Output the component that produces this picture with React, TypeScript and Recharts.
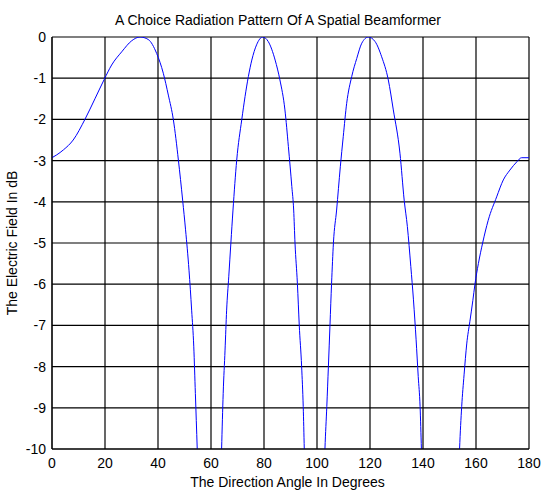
import { LineChart, Line, XAxis, YAxis, CartesianGrid } from 'recharts';

// angle (deg) and field (dB); points below -10 are clipped
const angles = [
  0, 1.8, 4.3, 8, 12.5, 16.2, 19.7, 22.5, 26.3, 30.1, 33.2, 36.3, 39.5, 42, 43.9,
  45.8, 47.7, 49.3, 50.4, 51.7, 52.7, 53.5, 54.1, 54.8, 56.5, 59.5, 62.5, 64,
  64.6, 65.3, 65.9, 66.7, 67.5, 68.3, 69.7, 71.6, 74.1, 75.4, 77.2, 79.5, 81.6,
  84.2, 86, 87.9, 89.2, 90.5, 91.2, 91.7, 92.6, 93.3, 94.2, 94.8, 95.2, 97, 99,
  101, 103, 103.7, 104.3, 104.9, 105.5, 106.2, 107.4, 108.8, 109.9, 111.2, 113.1,
  115, 116.9, 119.4, 121.9, 124.4, 126.9, 128.8, 131.3, 132.9, 134.1, 135.4,
  136.4, 137.4, 138.2, 138.9, 139.4, 143, 147, 151, 153.8, 154.6, 155.5, 156.5,
  157.7, 158.8, 159.6, 160.9, 162.5, 164.6, 167.8, 170.3, 172.8, 175.4,
  177.2, 180,
];
const fieldDb = [
  -2.93, -2.86, -2.74, -2.5, -1.99, -1.5, -1.03, -0.68, -0.36, -0.09, 0, -0.06,
  -0.4, -0.88, -1.41, -2.01, -2.99, -3.96, -4.68, -5.66, -6.63, -7.52, -8.65,
  -10, -14, -30, -14, -10, -8.65, -7.6, -6.63, -5.82, -5.0, -4.2, -2.99, -2.01,
  -0.96, -0.56, -0.19, 0, -0.11, -0.56, -1.04, -1.77, -2.66, -3.63, -4.2, -5.0,
  -5.98, -6.99, -8.0, -8.97, -10, -16, -35, -16, -10, -8.97, -8.0, -6.99, -5.98,
  -5.0, -4.2, -3.15, -2.42, -1.61, -0.96, -0.52, -0.15, 0, -0.11, -0.48, -1.04,
  -1.77, -2.82, -3.96, -4.6, -5.57, -6.38, -7.35, -8.24, -8.97, -10, -18, -30,
  -18, -10, -8.97, -8.2, -7.45, -6.9, -6.4, -6.0, -5.5, -5.0, -4.45,
  -3.88, -3.47, -3.23, -3.03, -2.93, -2.93,
];
const xTicks = [0, 20, 40, 60, 80, 100, 120, 140, 160, 180];
const yTicks = [0, -1, -2, -3, -4, -5, -6, -7, -8, -9, -10];

const data = angles.map((a, i) => ({ angle: a, db: fieldDb[i] }));

const FONT = '"Liberation Sans", Arial, sans-serif';
const tickStyle = { fill: '#000', fontSize: 14, fontFamily: FONT };

export default function App() {
  return (
    <div style={{ position: 'absolute', left: 0, top: 0, width: 542, height: 491, background: '#fff' }}>
      <div
        style={{
          position: 'absolute',
          top: 12,
          left: 0,
          width: 556,
          textAlign: 'center',
          fontFamily: FONT,
          fontSize: 14,
          color: '#000',
        }}
      >
        A Choice Radiation Pattern Of A Spatial Beamformer
      </div>
      <LineChart
        width={542}
        height={491}
        data={data}
        margin={{ top: 37, right: 13, bottom: 0, left: 0 }}
      >
        <CartesianGrid stroke="#000" strokeWidth={1.2} />
        <XAxis
          dataKey="angle"
          type="number"
          domain={[0, 180]}
          ticks={xTicks}
          allowDataOverflow
          height={42}
          tickLine={false}
          axisLine={{ stroke: '#000' }}
          tick={tickStyle}
          tickMargin={3}
          label={{
            value: 'The Direction Angle In Degrees',
            position: 'insideBottom',
            offset: 4,
            dx: -3,
            style: { fill: '#000', fontSize: 14, fontFamily: FONT },
          }}
        />
        <YAxis
          type="number"
          domain={[-10, 0]}
          ticks={yTicks}
          allowDataOverflow
          width={52}
          tickLine={false}
          axisLine={{ stroke: '#000' }}
          tick={tickStyle}
          tickMargin={0}
          label={{
            value: 'The Electric Field In dB',
            angle: -90,
            position: 'insideLeft',
            offset: 12,
            style: { fill: '#000', fontSize: 14, fontFamily: FONT, textAnchor: 'middle' },
          }}
        />
        <Line
          dataKey="db"
          type="monotone"
          stroke="#0000ff"
          strokeWidth={1}
          dot={false}
          isAnimationActive={false}
        />
      </LineChart>
    </div>
  );
}
